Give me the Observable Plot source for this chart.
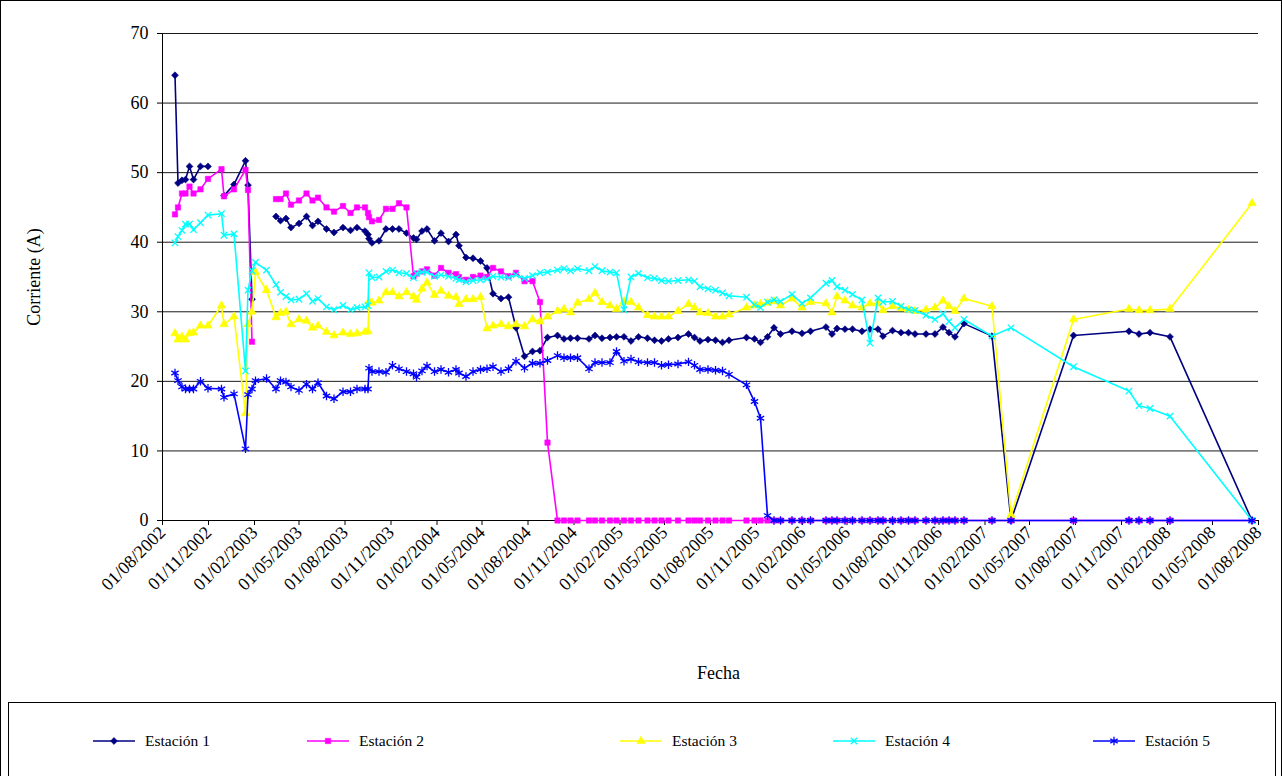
<!DOCTYPE html>
<html>
<head>
<meta charset="utf-8">
<script src="https://cdn.jsdelivr.net/npm/d3@7"></script>
<script src="https://cdn.jsdelivr.net/npm/@observablehq/plot@0.6"></script>
<style>
  html, body { margin: 0; padding: 0; background: #fff; }
  body { width: 1282px; height: 776px; position: relative; overflow: hidden; font-family: "Liberation Serif", serif; }
  #frame { position: absolute; left: 0; top: 0; width: 1280px; height: 790px; border: 1px solid #000; box-sizing: content-box; }
  #chart { position: absolute; left: 0; top: 0; }
  #legend { position: absolute; left: 8px; top: 702px; width: 1266px; height: 100px; border: 1px solid #000; font-family: "Liberation Serif", serif; }
  .item { position: absolute; height: 20px; display: flex; align-items: center; font-family: "Liberation Serif", serif; font-size: 15.5px; color: #000; white-space: nowrap; }
  .item svg { margin-right: 10px; }
</style>
</head>
<body>
<div id="frame"></div>
<div id="chart"></div>
<div id="legend"></div>
<script>
// ---- data ----
const dates = [
  "2002-08-26","2002-09-01","2002-09-09","2002-09-16","2002-09-24","2002-10-02","2002-10-16","2002-10-31","2002-11-27","2002-12-02",
  "2002-12-22","2003-01-14","2003-01-19","2003-01-27","2003-02-03","2003-02-25","2003-03-16","2003-03-25","2003-04-05","2003-04-15",
  "2003-05-01","2003-05-16","2003-05-28","2003-06-08","2003-06-25","2003-07-10","2003-07-28","2003-08-12","2003-08-25","2003-09-10",
  "2003-09-16","2003-09-18","2003-09-24","2003-10-08","2003-10-22","2003-11-04","2003-11-17","2003-12-02","2003-12-16","2003-12-22",
  "2004-01-02","2004-01-12","2004-01-27","2004-02-09","2004-02-24","2004-03-10","2004-03-16","2004-03-30","2004-04-13","2004-04-28",
  "2004-05-11","2004-05-23","2004-06-08","2004-06-23","2004-07-08","2004-07-25","2004-08-10","2004-08-25","2004-09-09","2004-09-29",
  "2004-10-12","2004-10-25","2004-11-08","2004-12-01","2004-12-13","2004-12-27","2005-01-12","2005-01-25","2005-02-09","2005-02-23",
  "2005-03-10","2005-03-28","2005-04-11","2005-04-25","2005-05-09","2005-05-28","2005-06-18","2005-06-30","2005-07-11","2005-07-27",
  "2005-08-11","2005-08-25","2005-09-07","2005-10-12","2005-10-28","2005-11-09","2005-11-23","2005-12-06","2005-12-19","2006-01-11",
  "2006-01-31","2006-02-17","2006-03-20","2006-04-01","2006-04-11","2006-04-27","2006-05-12","2006-05-31","2006-06-16","2006-07-02",
  "2006-07-12","2006-07-31","2006-08-17","2006-09-01","2006-09-14","2006-10-06","2006-10-24","2006-11-09","2006-11-21","2006-12-03",
  "2006-12-21","2007-02-15","2007-03-25","2007-07-28","2007-11-16","2007-12-06","2007-12-28","2008-02-06","2008-07-19"
];

const estacion1 = [
  64.0,48.5,48.9,49.0,50.9,49.0,50.9,50.9,null,46.7,
  48.3,51.7,48.2,31.8,null,null,43.7,43.1,43.4,42.1,
  42.7,43.7,42.4,43.0,41.9,41.4,42.1,41.7,42.1,41.6,
  41.1,40.5,39.9,40.2,41.9,41.9,41.9,41.3,40.6,40.4,
  41.6,41.9,40.2,41.3,40.1,41.1,39.5,37.8,37.7,37.3,
  36.3,32.6,31.9,32.1,27.7,23.6,24.3,24.4,26.3,26.6,
  26.1,26.2,26.2,26.1,26.6,26.2,26.3,26.4,26.4,25.8,
  26.4,26.2,25.9,25.8,26.1,26.3,26.8,26.3,25.8,26.0,
  25.9,25.6,25.9,26.3,26.1,25.6,26.4,27.7,26.8,27.2,
  26.9,27.2,27.8,26.8,27.6,27.5,27.5,27.2,27.5,27.5,
  26.5,27.3,27.0,27.0,26.8,26.8,26.8,27.8,27.0,26.4,
  28.3,26.5,0,26.6,27.2,26.8,27.0,26.4,0
];

const estacion2 = [
  44.0,45.0,47.0,47.0,48.0,47.0,47.6,49.1,50.5,46.6,
  47.6,50.4,47.5,25.7,null,null,46.2,46.2,47.0,45.4,
  46.0,47.0,46.0,46.4,45.0,44.4,45.2,44.2,45.0,45.0,
  44.2,43.6,43.0,43.2,44.8,44.8,45.6,45.0,35.1,35.5,
  35.8,36.1,35.2,36.3,35.6,35.4,35.0,34.6,35.0,35.2,
  35.0,36.3,35.8,35.1,35.6,34.4,34.4,31.4,11.2,0,
  0,0,0,0,0,0,0,0,0,0,
  0,0,0,0,0,0,0,0,0,0,
  0,0,0,0,0,0,0,0,0,0,
  0,0,0,0,0,0,0,0,0,0,
  0,0,0,0,0,0,0,0,0,0,
  0,0,0,0,0,0,0,0,0
];

const estacion3 = [
  26.9,26.0,26.4,26.0,26.9,27.0,28.0,28.0,30.9,28.2,
  29.3,15.4,28.2,30.0,35.7,33.1,29.2,29.8,30.0,28.2,
  28.9,28.7,27.7,28.0,27.1,26.6,27.0,26.8,26.9,27.1,
  27.2,31.5,31.3,31.6,32.8,32.8,32.2,32.8,32.2,31.7,
  33.3,34.2,32.4,33.0,32.3,32.1,31.1,31.8,31.8,32.1,
  27.6,28.0,28.2,27.9,28.2,27.9,28.9,28.6,29.3,30.1,
  30.4,29.9,31.3,31.8,32.7,31.4,30.9,30.4,31.5,31.4,
  30.6,29.5,29.3,29.3,29.3,30.1,31.1,30.6,29.9,29.8,
  29.3,29.3,29.6,30.6,30.9,31.1,31.3,31.5,30.9,31.9,
  30.6,31.4,31.2,29.9,32.2,31.6,30.9,30.6,31.2,31.2,
  30.2,30.8,30.5,30.3,30.1,30.3,30.6,31.6,30.8,30.1,
  31.9,30.8,0.8,28.9,30.4,30.2,30.2,30.4,45.6
];

const estacion4 = [
  39.9,40.8,41.7,42.6,42.6,41.8,42.8,43.9,44.1,41.0,
  41.2,21.5,33.1,35.9,37.1,36.0,33.9,32.8,32.2,31.7,
  31.8,32.6,31.5,31.9,30.7,30.3,30.9,30.3,30.6,30.7,
  30.9,35.6,34.9,35.0,35.8,36.0,35.6,35.5,34.9,35.5,
  35.7,35.7,35.1,35.3,35.1,34.8,34.6,34.3,34.5,34.6,
  34.7,35.1,35.0,34.9,35.3,34.8,35.2,35.6,35.7,36.0,
  36.2,35.9,36.2,35.9,36.5,35.9,35.7,35.6,30.3,35.0,
  35.5,34.9,34.8,34.5,34.4,34.5,34.6,34.4,33.6,33.3,
  33.1,32.7,32.3,32.1,31.0,30.6,31.4,31.7,31.5,32.5,
  31.2,32.0,34.1,34.5,33.6,33.1,32.5,31.7,25.5,32.0,
  31.4,31.5,30.8,30.3,30.2,29.5,28.9,29.7,28.6,27.7,
  28.9,26.5,27.7,22.1,18.6,16.5,16.1,15.0,0
];

const estacion5 = [
  21.2,20.1,19.2,18.9,18.9,18.9,20.0,19.0,18.9,17.7,
  18.2,10.3,18.1,18.9,20.1,20.4,18.9,20.1,19.9,19.2,
  18.7,19.6,18.9,19.8,17.9,17.5,18.5,18.5,18.9,18.9,
  18.9,21.9,21.4,21.4,21.3,22.3,21.8,21.4,21.1,20.6,
  21.5,22.2,21.4,21.7,21.3,21.7,21.2,20.7,21.4,21.7,
  21.8,22.1,21.4,21.8,22.9,21.9,22.6,22.6,23.0,23.7,
  23.4,23.4,23.4,21.8,22.7,22.7,22.7,24.3,22.9,23.2,
  22.8,22.7,22.7,22.3,22.4,22.5,22.8,22.3,21.7,21.7,
  21.6,21.5,21.0,19.5,17.1,14.7,0.7,0,0,0,
  0,0,0,0,0,0,0,0,0,0,
  0,0,0,0,0,0,0,0,0,0,
  0,0,0,0,0,0,0,0,0
];

const seriesNames = ["Estación 1","Estación 2","Estación 3","Estación 4","Estación 5"];
const xTickLabels = [
  "01/08/2002","01/11/2002","01/02/2003","01/05/2003","01/08/2003","01/11/2003","01/02/2004","01/05/2004","01/08/2004",
  "01/11/2004","01/02/2005","01/05/2005","01/08/2005","01/11/2005","01/02/2006","01/05/2006","01/08/2006","01/11/2006",
  "01/02/2007","01/05/2007","01/08/2007","01/11/2007","01/02/2008","01/05/2008","01/08/2008"
];
const yTicks = [0,10,20,30,40,50,60,70];

// ---- styles ----
const styles = [
  {color: "#000080", symbol: d3.symbolDiamond2, r: 3.1, filled: true},
  {color: "#FF00FF", symbol: d3.symbolSquare,   r: 3.0, filled: true},
  {color: "#FFFF00", symbol: d3.symbolTriangle, r: 3.1, filled: true},
  {color: "#00FFFF", symbol: d3.symbolTimes,    r: 3.0, filled: false},
  {color: "#0000FF", symbol: d3.symbolAsterisk, r: 4.0, filled: false}
];

const parseDMY = d3.utcParse("%d/%m/%Y");
const xTicks = xTickLabels.map(parseDMY);
const parsedDates = dates.map(d => new Date(d + "T00:00:00Z"));
const allValues = [estacion1, estacion2, estacion3, estacion4, estacion5];

const seriesData = allValues.map((vals, k) =>
  parsedDates.map((d, i) => ({date: d, value: vals[i] == null ? NaN : vals[i], name: seriesNames[k]}))
);

const seriesMarks = seriesData.flatMap((data, k) => {
  const s = styles[k];
  return [
    Plot.line(data, {x: "date", y: "value", stroke: s.color, strokeWidth: 1.6}),
    Plot.dot(data.filter(d => !isNaN(d.value)), {
      x: "date", y: "value", symbol: s.symbol, r: s.r,
      fill: s.filled ? s.color : "none", stroke: s.color,
      strokeWidth: s.filled ? 0.6 : 1.3
    })
  ];
});

const chart = Plot.plot({
  width: 1282,
  height: 700,
  marginLeft: 162,
  marginRight: 24,
  marginTop: 33,
  marginBottom: 180,
  style: {fontFamily: "Liberation Serif", fontSize: "18px", color: "#000", background: "transparent", overflow: "visible"},
  x: {type: "utc", domain: [xTicks[0], xTicks[xTicks.length - 1]]},
  y: {domain: [0, 70]},
  marks: [
    Plot.gridY(yTicks, {stroke: "#000", strokeOpacity: 0.9, strokeWidth: 1}),
    Plot.ruleY([0], {stroke: "#000", strokeWidth: 1}),
    Plot.ruleX([xTicks[0]], {stroke: "#000", strokeWidth: 1}),
    Plot.axisY({ticks: yTicks, tickSize: 5, tickPadding: 9, label: null, fontSize: 18}),
    Plot.axisX({ticks: xTicks, tickFormat: d3.utcFormat("%d/%m/%Y"), tickRotate: -45, textAnchor: "end", tickSize: 5, tickPadding: 4, label: null, fontSize: 18}),
    ...seriesMarks,
    Plot.text(["Corriente (A)"], {text: d => d, frameAnchor: "left", textAnchor: "middle", rotate: -90, dx: -128, fontSize: 18}),
    Plot.text(["Fecha"], {text: d => d, frameAnchor: "bottom", textAnchor: "middle", dy: 158, dx: 8, fontSize: 18})
  ]
});
document.getElementById("chart").appendChild(chart);

// ---- legend ----
const legendX = [93, 307, 620, 833, 1093];
const legend = d3.select("#legend");
seriesNames.forEach((name, k) => {
  const s = styles[k];
  const item = legend.append("div").attr("class", "item")
    .style("left", (legendX[k] - 9) + "px").style("top", (741 - 703 - 10) + "px");
  const svg = item.append("svg").attr("width", 42).attr("height", 16);
  svg.append("line").attr("x1", 0).attr("x2", 42).attr("y1", 8).attr("y2", 8)
    .attr("stroke", s.color).attr("stroke-width", 1.6);
  svg.append("path").attr("transform", "translate(21,8)")
    .attr("d", d3.symbol(s.symbol, Math.PI * s.r * s.r)())
    .attr("fill", s.filled ? s.color : "none").attr("stroke", s.color)
    .attr("stroke-width", s.filled ? 0.6 : 1.3);
  item.append("span").text(name);
});
</script>
</body>
</html>
